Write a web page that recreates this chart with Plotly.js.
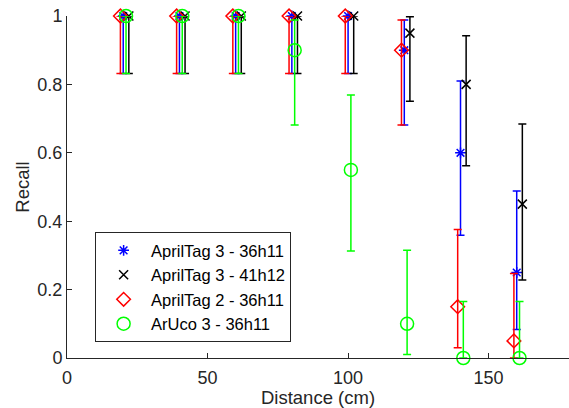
<!DOCTYPE html>
<html>
<head>
<meta charset="utf-8">
<script src="https://cdn.plot.ly/plotly-3.0.1.min.js"></script>
<style>html,body{margin:0;padding:0;background:#fff;}#chart{width:569px;height:408px;}</style>
</head>
<body>
<div id="chart"></div>
<script>
// Distances (cm) for each series (slightly offset as in the original)
const distBlue  = [20, 40, 60, 80, 100, 120, 140, 160];
const distBlack = [22, 42, 62, 82, 102, 122, 142, 162];
const distRed   = [19, 39, 59, 79, 99, 119, 139, 159];
const distGreen = [21, 41, 61, 81, 101, 121, 141, 161];

// Recall values
const recallBlue  = [1, 1, 1, 1, 1, 0.90, 0.60, 0.25];
const recallBlack = [1, 1, 1, 1, 1, 0.95, 0.80, 0.45];
const recallRed   = [1, 1, 1, 1, 1, 0.90, 0.15, 0.05];
const recallGreen = [1, 1, 1, 0.90, 0.55, 0.10, 0, 0];

// Upper / lower error bar ends
const upperBlue  = [1, 1, 1, 1, 1, 0.988, 0.81, 0.488];
const lowerBlue  = [0.832, 0.832, 0.832, 0.832, 0.832, 0.681, 0.359, 0.083];
const upperBlack = [1, 1, 1, 1, 1, 0.998, 0.942, 0.684];
const lowerBlack = [0.832, 0.832, 0.832, 0.832, 0.832, 0.751, 0.562, 0.228];
const upperRed   = [1, 1, 1, 1, 1, 0.988, 0.376, 0.247];
const lowerRed   = [0.832, 0.832, 0.832, 0.832, 0.832, 0.681, 0.03, 0];
const upperGreen = [1, 1, 1, 0.988, 0.769, 0.315, 0.165, 0.165];
const lowerGreen = [0.832, 0.832, 0.832, 0.681, 0.313, 0.01, 0, 0];

const seriesNames = ['AprilTag 3 - 36h11', 'AprilTag 3 - 41h12', 'AprilTag 2 - 36h11', 'ArUco 3 - 36h11'];
const xTicks = [0, 50, 100, 150];
const yTicks = [0, 0.2, 0.4, 0.6, 0.8, 1];

function mk(x, y, up, lo, name, color, symbol, size) {
  return {
    type: 'scatter', mode: 'markers', name: name, x: x, y: y,
    cliponaxis: false,
    marker: {symbol: symbol, size: size, color: color, line: {color: color, width: 1.5}},
    error_y: {
      type: 'data', symmetric: false,
      array: up.map((u, i) => u - y[i]),
      arrayminus: lo.map((l, i) => y[i] - l),
      color: color, thickness: 1.5, width: 4
    }
  };
}

const traces = [
  mk(distBlue, recallBlue, upperBlue, lowerBlue, seriesNames[0], '#0000ff', 'asterisk-open', 9),
  mk(distBlack, recallBlack, upperBlack, lowerBlack, seriesNames[1], '#000000', 'x-thin-open', 9),
  mk(distRed, recallRed, upperRed, lowerRed, seriesNames[2], '#ff0000', 'diamond-open', 10.5),
  mk(distGreen, recallGreen, upperGreen, lowerGreen, seriesNames[3], '#00ff00', 'circle-open', 13)
];

const axisColor = '#262626';
const layout = {
  width: 569, height: 408,
  margin: {l: 67, r: 0, t: 16, b: 50},
  paper_bgcolor: '#ffffff', plot_bgcolor: '#ffffff',
  font: {family: 'Liberation Sans, Arial, sans-serif', color: axisColor, size: 16},
  showlegend: true,
  legend: {
    x: 0.056, y: 0.368, xanchor: 'left', yanchor: 'top',
    bordercolor: axisColor, borderwidth: 1, bgcolor: '#ffffff',
    font: {size: 16.5, color: '#000000'}, itemwidth: 45, tracegroupgap: 0
  },
  xaxis: {
    range: [0, 178.6], tickvals: xTicks, ticktext: xTicks.map(String),
    showgrid: false, zeroline: false, showline: true, linecolor: axisColor, linewidth: 1,
    ticks: 'inside', ticklen: 5, tickcolor: axisColor, ticklabelstandoff: 3,
    tickfont: {size: 18, color: axisColor},
    title: {text: 'Distance (cm)', font: {size: 18.5, color: axisColor}, standoff: 4}
  },
  yaxis: {
    range: [0, 1], tickvals: yTicks, ticktext: yTicks.map(String),
    showgrid: false, zeroline: false, showline: true, linecolor: axisColor, linewidth: 1,
    ticks: 'inside', ticklen: 5, tickcolor: axisColor,
    tickfont: {size: 18, color: axisColor},
    title: {text: 'Recall', font: {size: 18.5, color: axisColor}, standoff: 2}
  }
};

Plotly.newPlot('chart', traces, layout, {displayModeBar: false, staticPlot: true});
</script>
</body>
</html>
